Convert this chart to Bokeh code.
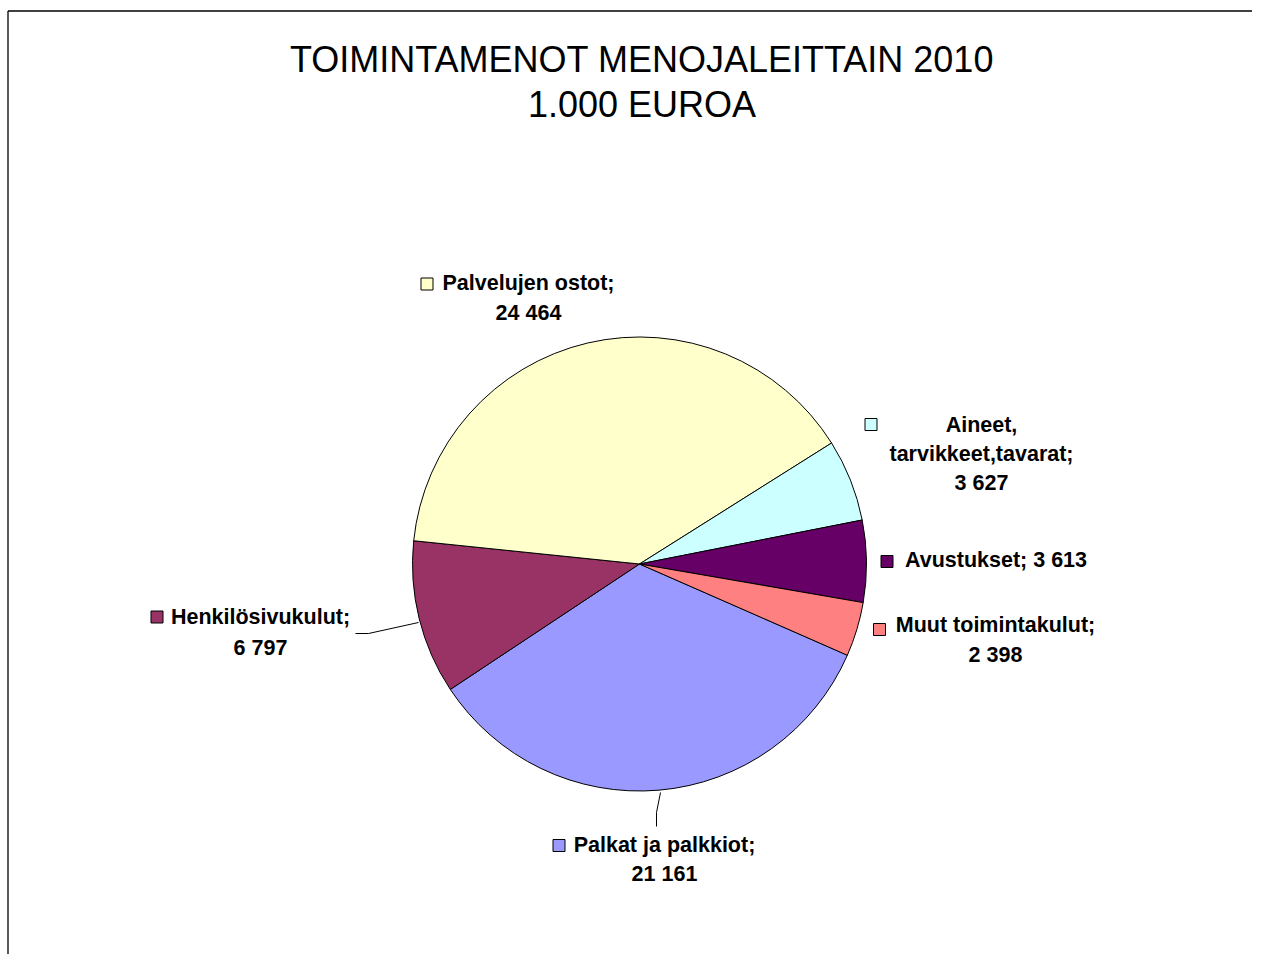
import numpy as np
from bokeh.plotting import figure
from bokeh.models import Range1d, ColumnDataSource
from bokeh.core.properties import value
from bokeh.embed import file_html
from bokeh.resources import INLINE

# ---- data ----
title_lines = ["TOIMINTAMENOT MENOJALEITTAIN 2010", "1.000 EUROA"]
categories = ["Palkat ja palkkiot", "Henkilösivukulut", "Palvelujen ostot",
              "Aineet, tarvikkeet,tavarat", "Avustukset", "Muut toimintakulut"]
values = [21161, 6797, 24464, 3627, 3613, 2398]
colors = ["#9999FF", "#993366", "#FFFFCC", "#CCFFFF", "#660066", "#FF8080"]
single_line = ["Avustukset"]

# ---- layout (picture pixel coordinates) ----
W, H = 1252, 954
def px(x): return x
def py(y): return H - y

center = (639, 563.5)
radius = 227
start_deg = -23.7  # first slice starts here, slices go clockwise

# per label: key square centre, text centre x, first line centre y, line gap
key_pos = [(558.5, 845), (156.5, 616.5), (426.5, 283.5), (870.5, 424), (886.5, 561), (879, 629)]
text_x = [664, 260, 528, 981, 995.5, 995]
text_y0 = [844, 616, 282.5, 424, 559.5, 624]
gaps = [29, 31, 30, 29.3, 30, 30]
leaders = {0: [(660, 792), (656, 812), (656, 826)],
           1: [(355, 633), (368, 633), (418, 622)]}

FONT = "Liberation Sans"

p = figure(width=W, height=H, output_backend="svg", toolbar_location=None,
           x_range=Range1d(0, W), y_range=Range1d(0, H), min_border=0,
           background_fill_color="white", border_fill_color="white")
p.axis.visible = False
p.grid.visible = False
p.outline_line_color = None

# frame (top and left edges visible in the reference)
p.line([px(7.5), px(7.5)], [py(10.5), 0], line_color="black", line_width=1.3)
p.line([px(7.5), W], [py(10.5), py(10.5)], line_color="black", line_width=1.3)

# title
p.text(x=[px(641.5)] * 2, y=[py(59), py(104)], text=title_lines,
       text_font=value(FONT), text_font_size="36px", text_color="black",
       text_align="center", text_baseline="middle")

# pie
vals = np.array(values, dtype=float)
cum = np.cumsum(vals) / vals.sum() * 2 * np.pi
prev = np.concatenate([[0.0], cum[:-1]])
s0 = np.deg2rad(start_deg)
src = ColumnDataSource(dict(
    start=s0 - cum, end=s0 - prev, color=colors,
    x=[px(center[0])] * len(vals), y=[py(center[1])] * len(vals)))
p.wedge(x="x", y="y", radius=radius, start_angle="start", end_angle="end",
        fill_color="color", line_color="black", line_width=1, source=src)

# leader lines
for i, pts in leaders.items():
    p.line([px(a) for a, b in pts], [py(b) for a, b in pts], line_color="black", line_width=1)

def fmt(v):
    return f"{v:,}".replace(",", " ")

def label_lines(cat, v):
    s = fmt(v)
    if cat in single_line:
        return [f"{cat}; {s}"]
    parts = cat.split(", ")
    return [q + "," for q in parts[:-1]] + [parts[-1] + ";", s]

tx, ty, tt = [], [], []
for i, (cat, v) in enumerate(zip(categories, values)):
    for j, line in enumerate(label_lines(cat, v)):
        tx.append(px(text_x[i]))
        ty.append(py(text_y0[i] + j * gaps[i]))
        tt.append(line)
p.text(x=tx, y=ty, text=tt, text_font=value(FONT), text_font_size="21.5px",
       text_font_style="bold", text_color="black", text_align="center",
       text_baseline="middle")

p.rect(x=[px(k[0]) for k in key_pos], y=[py(k[1]) for k in key_pos],
       width=12, height=12, fill_color=colors, line_color="black", line_width=1)

open("out.html", "w").write(file_html(p, INLINE))
